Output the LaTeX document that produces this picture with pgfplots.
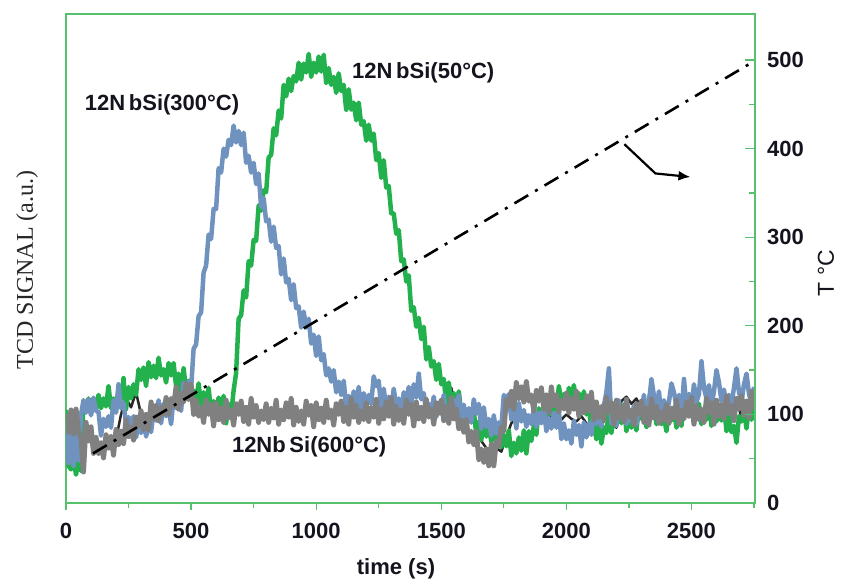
\documentclass[border=0pt]{standalone}
\usepackage{pgfplots}
\pgfplotsset{compat=1.18}
\usepackage{fontspec}
\setmainfont{Liberation Sans}
\newfontfamily\seriffont{Liberation Serif}
\usetikzlibrary{arrows.meta}

\definecolor{axisgreen}{RGB}{86,192,108}
\definecolor{sigGreen}{RGB}{34,177,76}
\definecolor{sigBlue}{RGB}{111,146,190}
\definecolor{sigGray}{RGB}{128,128,128}
\definecolor{labelInk}{RGB}{20,20,30}

\newcommand{\bigbold}{\fontsize{22bp}{26bp}\selectfont\bfseries}

\begin{document}
\begin{tikzpicture}
\path[use as bounding box] (-66bp,-76bp) rectangle (776bp,503bp);

% TCD signals (arbitrary units, plotted on the temperature scale)
\begin{axis}[
  at={(0,0)}, anchor=south west,
  scale only axis, width=689bp, height=489bp,
  xmin=0, xmax=2754, ymin=0, ymax=552,
  axis line style={axisgreen, line width=1.3bp},
  xtick={0,500,...,2500}, minor xtick={250,750,...,2750},
  xtick pos=left, tick align=outside,
  ytick=\empty,
  major tick length=6.5bp, minor tick length=5bp,
  every tick/.style={axisgreen, line width=1.3bp},
  /pgf/number format/assume math mode=true,
  /pgf/number format/1000 sep={},
  xticklabel style={font=\bigbold, text=labelInk, anchor=center, yshift=-21bp},
  xlabel={time (s)},
  xlabel style={font=\bigbold, text=labelInk, at={(axis description cs:0.479,0)}, anchor=center, yshift=-66bp},
  ylabel={TCD SIGNAL (a.u.)},
  ylabel style={font=\seriffont\fontsize{24bp}{28bp}\selectfont, text=black!85, at={(axis description cs:-0.0566,0.4765)}, anchor=center},
  every axis plot/.append style={line join=round},
  clip=true,
]
% 12NbSi baseline trace (mostly hidden)
\addplot[black!85, line width=2.5bp] coordinates {
(0,95)(20,100)(40,85)(60,90)(80,78)(100,72)(120,70)(140,66)(160,64)(180,67)(200,72)(220,100)(240,118)(260,108)(280,125)(300,100)(320,95)(340,100)(360,102)(380,106)(400,110)(420,113)(440,117)(460,121)(480,124)(500,118)(520,110)(540,106)(560,103)(580,100)(600,106)(620,100)(640,106)(660,100)(680,106)(700,100)(720,106)(740,100)(760,106)(780,100)(800,106)(820,100)(840,106)(860,100)(880,106)(900,100)(920,106)(940,100)(960,106)(980,100)(1000,106)(1020,100)(1040,106)(1060,100)(1080,106)(1100,100)(1120,106)(1140,100)(1160,106)(1180,100)(1200,106)(1220,100)(1240,106)(1260,100)(1280,106)(1300,100)(1320,106)(1340,100)(1360,106)(1380,100)(1400,106)(1420,100)(1440,106)(1460,100)(1480,106)(1500,100)(1520,110)(1540,130)(1560,105)(1580,92)(1600,84)(1620,78)(1640,82)(1660,70)(1680,62)(1700,60)(1720,62)(1740,58)(1760,75)(1780,90)(1800,98)(1820,96)(1840,100)(1860,94)(1880,100)(1900,105)(1920,100)(1940,96)(1960,102)(1980,94)(2000,100)(2020,95)(2040,92)(2060,98)(2080,90)(2100,86)(2120,92)(2140,88)(2160,84)(2180,90)(2200,85)(2220,115)(2240,120)(2260,112)(2280,118)(2300,105)(2320,100)(2340,95)(2360,100)(2380,104)(2400,100)(2420,103)(2440,99)(2460,102)(2480,100)(2500,104)(2520,100)(2540,103)(2560,101)(2580,104)(2600,100)(2620,95)(2640,112)(2660,104)(2680,118)(2700,96)(2720,110)(2740,100)
};
% 12NbSi(50 C)
\addplot[sigGreen, line width=4.5bp] coordinates {
(0,105)(10,42)(20,38)(30,50)(40,32)(50,48)(60,36)(70,116)(80,103)(90,118)(100,101)(110,112)(120,107)(130,122)(140,107)(150,118)(160,109)(170,132)(180,107)(190,118)(200,104)(210,129)(220,117)(230,141)(240,106)(250,131)(260,118)(270,134)(280,122)(290,151)(300,139)(310,153)(320,132)(330,159)(340,142)(350,155)(360,141)(370,164)(380,144)(390,151)(400,136)(410,158)(420,144)(430,158)(440,132)(450,146)(460,125)(470,152)(480,127)(490,138)(500,117)(510,127)(520,116)(530,135)(540,111)(550,125)(560,112)(570,130)(580,102)(590,115)(600,102)(610,119)(620,101)(630,121)(640,90)(650,112)(660,100)(670,127)(680,147)(690,208)(700,212)(710,240)(720,232)(730,273)(740,268)(750,297)(760,296)(770,336)(780,330)(790,353)(800,351)(810,390)(820,393)(830,423)(840,415)(850,443)(860,434)(870,472)(880,459)(890,479)(900,465)(910,482)(920,476)(930,497)(940,478)(950,496)(960,486)(970,507)(980,481)(990,497)(1000,486)(1010,504)(1020,487)(1030,506)(1040,474)(1050,491)(1060,472)(1070,481)(1080,463)(1090,485)(1100,465)(1110,472)(1120,444)(1130,467)(1140,444)(1150,452)(1160,432)(1170,452)(1180,427)(1190,431)(1200,409)(1210,427)(1220,409)(1230,417)(1240,387)(1250,395)(1260,367)(1270,387)(1280,356)(1290,358)(1300,327)(1310,327)(1320,304)(1330,308)(1340,273)(1350,275)(1360,250)(1370,257)(1380,217)(1390,221)(1400,199)(1410,209)(1420,185)(1430,199)(1440,162)(1450,176)(1460,154)(1470,160)(1480,139)(1490,157)(1500,134)(1510,140)(1520,112)(1530,136)(1540,114)(1550,124)(1560,105)(1570,126)(1580,102)(1590,107)(1600,86)(1610,106)(1620,91)(1630,103)(1640,78)(1650,92)(1660,71)(1670,98)(1680,75)(1690,88)(1700,69)(1710,82)(1720,70)(1730,86)(1740,63)(1750,77)(1760,64)(1770,82)(1780,53)(1790,68)(1800,56)(1810,74)(1820,59)(1830,82)(1840,56)(1850,81)(1860,70)(1870,87)(1880,77)(1890,107)(1900,94)(1910,108)(1920,86)(1930,115)(1940,100)(1950,117)(1960,104)(1970,132)(1980,114)(1990,123)(2000,106)(2010,130)(2020,118)(2030,133)(2040,110)(2050,124)(2060,102)(2070,126)(2080,100)(2090,108)(2100,81)(2110,87)(2120,72)(2130,90)(2140,67)(2150,85)(2160,79)(2170,104)(2180,79)(2190,98)(2200,87)(2210,106)(2220,90)(2230,111)(2240,81)(2250,101)(2260,85)(2270,97)(2280,82)(2290,108)(2300,95)(2310,108)(2320,86)(2330,116)(2340,130)(2350,115)(2360,89)(2370,109)(2380,89)(2390,98)(2400,81)(2410,105)(2420,93)(2430,108)(2440,85)(2450,103)(2460,87)(2470,121)(2480,105)(2490,123)(2500,101)(2510,110)(2520,97)(2530,112)(2540,89)(2550,105)(2560,94)(2570,114)(2580,87)(2590,103)(2600,92)(2610,111)(2620,93)(2630,111)(2640,81)(2650,98)(2660,80)(2670,87)(2680,68)(2690,98)(2700,92)(2710,106)(2720,84)(2730,111)(2740,94)(2750,107)
};
% 12NbSi(300 C)
\addplot[sigBlue, line width=4.5bp] coordinates {
(0,95)(10,45)(20,88)(30,42)(40,82)(50,48)(60,100)(70,116)(80,102)(90,117)(100,99)(110,119)(120,104)(130,103)(140,76)(150,95)(160,86)(170,98)(180,85)(190,116)(200,102)(210,134)(220,107)(230,113)(240,89)(250,97)(260,84)(270,98)(280,74)(290,89)(300,79)(310,100)(320,75)(330,88)(340,80)(350,103)(360,93)(370,116)(380,90)(390,112)(400,98)(410,108)(420,89)(430,118)(440,107)(450,123)(460,104)(470,136)(480,120)(490,137)(500,129)(510,174)(520,179)(530,211)(540,215)(550,260)(560,268)(570,303)(580,298)(590,332)(600,332)(610,378)(620,373)(630,400)(640,391)(650,410)(660,404)(670,426)(680,407)(690,420)(700,404)(710,418)(720,384)(730,392)(740,373)(750,384)(760,360)(770,372)(780,334)(790,344)(800,318)(810,320)(820,295)(830,312)(840,288)(850,290)(860,258)(870,276)(880,249)(890,253)(900,229)(910,247)(920,220)(930,222)(940,198)(950,216)(960,198)(970,208)(980,180)(990,190)(1000,166)(1010,188)(1020,161)(1030,168)(1040,144)(1050,152)(1060,137)(1070,150)(1080,125)(1090,137)(1100,122)(1110,138)(1120,108)(1130,121)(1140,108)(1150,126)(1160,110)(1170,131)(1180,104)(1190,124)(1200,108)(1210,122)(1220,112)(1230,143)(1240,132)(1250,138)(1260,106)(1270,129)(1280,107)(1290,120)(1300,104)(1310,129)(1320,109)(1330,118)(1340,101)(1350,125)(1360,113)(1370,131)(1380,112)(1390,134)(1400,119)(1410,146)(1420,117)(1430,124)(1440,101)(1450,112)(1460,102)(1470,120)(1480,97)(1490,113)(1500,102)(1510,122)(1520,94)(1530,110)(1540,98)(1550,117)(1560,101)(1570,122)(1580,91)(1590,111)(1600,95)(1610,107)(1620,91)(1630,117)(1640,101)(1650,112)(1660,84)(1670,108)(1680,86)(1690,95)(1700,76)(1710,99)(1720,78)(1730,91)(1740,86)(1750,122)(1760,113)(1770,123)(1780,94)(1790,106)(1800,84)(1810,113)(1820,92)(1830,105)(1840,86)(1850,99)(1860,89)(1870,107)(1880,86)(1890,102)(1900,90)(1910,109)(1920,81)(1930,96)(1940,84)(1950,102)(1960,85)(1970,104)(1980,72)(1990,90)(2000,72)(2010,82)(2020,67)(2030,93)(2040,77)(2050,88)(2060,64)(2070,91)(2080,74)(2090,90)(2100,77)(2110,106)(2120,89)(2130,103)(2140,86)(2150,110)(2160,125)(2170,152)(2180,90)(2190,106)(2200,87)(2210,116)(2220,95)(2230,108)(2240,89)(2250,102)(2260,92)(2270,110)(2280,89)(2290,107)(2300,99)(2310,122)(2320,97)(2330,113)(2340,140)(2350,121)(2360,105)(2370,126)(2380,96)(2390,116)(2400,100)(2410,114)(2420,135)(2430,125)(2440,109)(2450,122)(2460,98)(2470,140)(2480,108)(2490,123)(2500,109)(2510,134)(2520,114)(2530,123)(2540,160)(2550,130)(2560,118)(2570,133)(2580,110)(2590,126)(2600,150)(2610,136)(2620,115)(2630,128)(2640,109)(2650,122)(2660,112)(2670,130)(2680,152)(2690,125)(2700,114)(2710,134)(2720,146)(2730,123)(2740,112)(2750,131)
};
% 12NbSi(600 C)
\addplot[sigGray, line width=5bp] coordinates {
(0,101)(10,80)(20,105)(30,78)(40,106)(50,80)(60,72)(70,35)(80,91)(90,70)(100,86)(110,56)(120,74)(130,56)(140,68)(150,51)(160,77)(170,62)(180,75)(190,54)(200,83)(210,66)(220,81)(230,67)(240,94)(250,75)(260,86)(270,71)(280,97)(290,87)(300,104)(310,83)(320,100)(330,83)(340,114)(350,95)(360,110)(370,93)(380,108)(390,100)(400,119)(410,100)(420,118)(430,109)(440,131)(450,106)(460,124)(470,114)(480,135)(490,117)(500,134)(510,100)(520,116)(530,98)(540,108)(550,91)(560,116)(570,100)(580,111)(590,87)(600,113)(610,94)(620,107)(630,91)(640,116)(650,96)(660,105)(670,88)(680,112)(690,100)(700,115)(710,92)(720,108)(730,89)(740,118)(750,97)(760,110)(770,91)(780,104)(790,94)(800,112)(810,91)(820,107)(830,96)(840,116)(850,89)(860,105)(870,94)(880,113)(890,97)(900,118)(910,88)(920,108)(930,92)(940,104)(950,89)(960,115)(970,99)(980,110)(990,86)(1000,113)(1010,94)(1020,107)(1030,91)(1040,116)(1050,96)(1060,105)(1070,88)(1080,112)(1090,100)(1100,115)(1110,92)(1120,108)(1130,89)(1140,118)(1150,97)(1160,110)(1170,91)(1180,104)(1190,94)(1200,113)(1210,92)(1220,108)(1230,97)(1240,117)(1250,90)(1260,106)(1270,95)(1280,114)(1290,98)(1300,119)(1310,89)(1320,109)(1330,93)(1340,105)(1350,90)(1360,116)(1370,100)(1380,111)(1390,87)(1400,114)(1410,95)(1420,108)(1430,92)(1440,117)(1450,97)(1460,106)(1470,89)(1480,113)(1490,101)(1500,116)(1510,93)(1520,109)(1530,90)(1540,119)(1550,95)(1560,106)(1570,84)(1580,94)(1590,80)(1600,94)(1610,69)(1620,81)(1630,66)(1640,81)(1650,49)(1660,61)(1670,46)(1680,61)(1690,42)(1700,66)(1710,42)(1720,70)(1730,64)(1740,86)(1750,81)(1760,117)(1770,109)(1780,126)(1790,106)(1800,136)(1810,118)(1820,131)(1830,114)(1840,137)(1850,115)(1860,122)(1870,104)(1880,127)(1890,115)(1900,130)(1910,106)(1920,122)(1930,102)(1940,131)(1950,110)(1960,122)(1970,103)(1980,116)(1990,106)(2000,124)(2010,102)(2020,118)(2030,106)(2040,126)(2050,98)(2060,114)(2070,102)(2080,121)(2090,104)(2100,125)(2110,94)(2120,114)(2130,97)(2140,109)(2150,93)(2160,119)(2170,103)(2180,113)(2190,89)(2200,116)(2210,96)(2220,109)(2230,92)(2240,117)(2250,97)(2260,105)(2270,88)(2280,112)(2290,100)(2300,115)(2310,91)(2320,107)(2330,88)(2340,117)(2350,96)(2360,109)(2370,90)(2380,103)(2390,93)(2400,111)(2410,90)(2420,107)(2430,96)(2440,116)(2450,89)(2460,105)(2470,95)(2480,114)(2490,98)(2500,119)(2510,89)(2520,110)(2530,94)(2540,106)(2550,91)(2560,118)(2570,102)(2580,113)(2590,89)(2600,116)(2610,98)(2620,111)(2630,95)(2640,121)(2650,101)(2660,110)(2670,93)(2680,118)(2690,106)(2700,121)(2710,99)(2720,115)(2730,96)(2740,126)(2750,105)
};
\node[font=\bigbold, text=labelInk] at (axis cs:384,449) {12N\,bSi(300°C)};
\node[font=\bigbold, text=labelInk] at (axis cs:1428,486) {12N\,bSi(50°C)};
\node[font=\bigbold, text=labelInk] at (axis cs:972,63) {12Nb\,Si(600°C)};
\end{axis}

% temperature programme on the right-hand axis
\begin{axis}[
  at={(0,0)}, anchor=south west,
  scale only axis, width=689bp, height=489bp,
  xmin=0, xmax=2754, ymin=0, ymax=552,
  axis x line=none, axis y line*=right,
  axis line style={axisgreen, line width=1.3bp},
  ytick={0,100,...,500}, minor ytick={50,150,...,450},
  tick align=inside,
  major tick length=10bp, minor tick length=6.5bp,
  every tick/.style={axisgreen, line width=1.3bp},
  /pgf/number format/assume math mode=true,
  yticklabel style={font=\bigbold, text=labelInk, anchor=west, inner sep=0pt, xshift=12bp},
  ylabel={T °C},
  ylabel style={font=\fontsize{23bp}{27bp}\selectfont, text=labelInk, at={(axis description cs:1.103,0.47)}, anchor=center},
]
\addplot[black, line width=2.6bp, dash pattern=on 16bp off 8bp on 3bp off 8bp] coordinates {(108,56) (2740,497)};
\draw[black, line width=2.2bp, -{Latex[length=12bp,width=10bp]}] (axis cs:2232,405) -- (axis cs:2356,372) -- (axis cs:2496,368);
\end{axis}
\end{tikzpicture}
\end{document}
